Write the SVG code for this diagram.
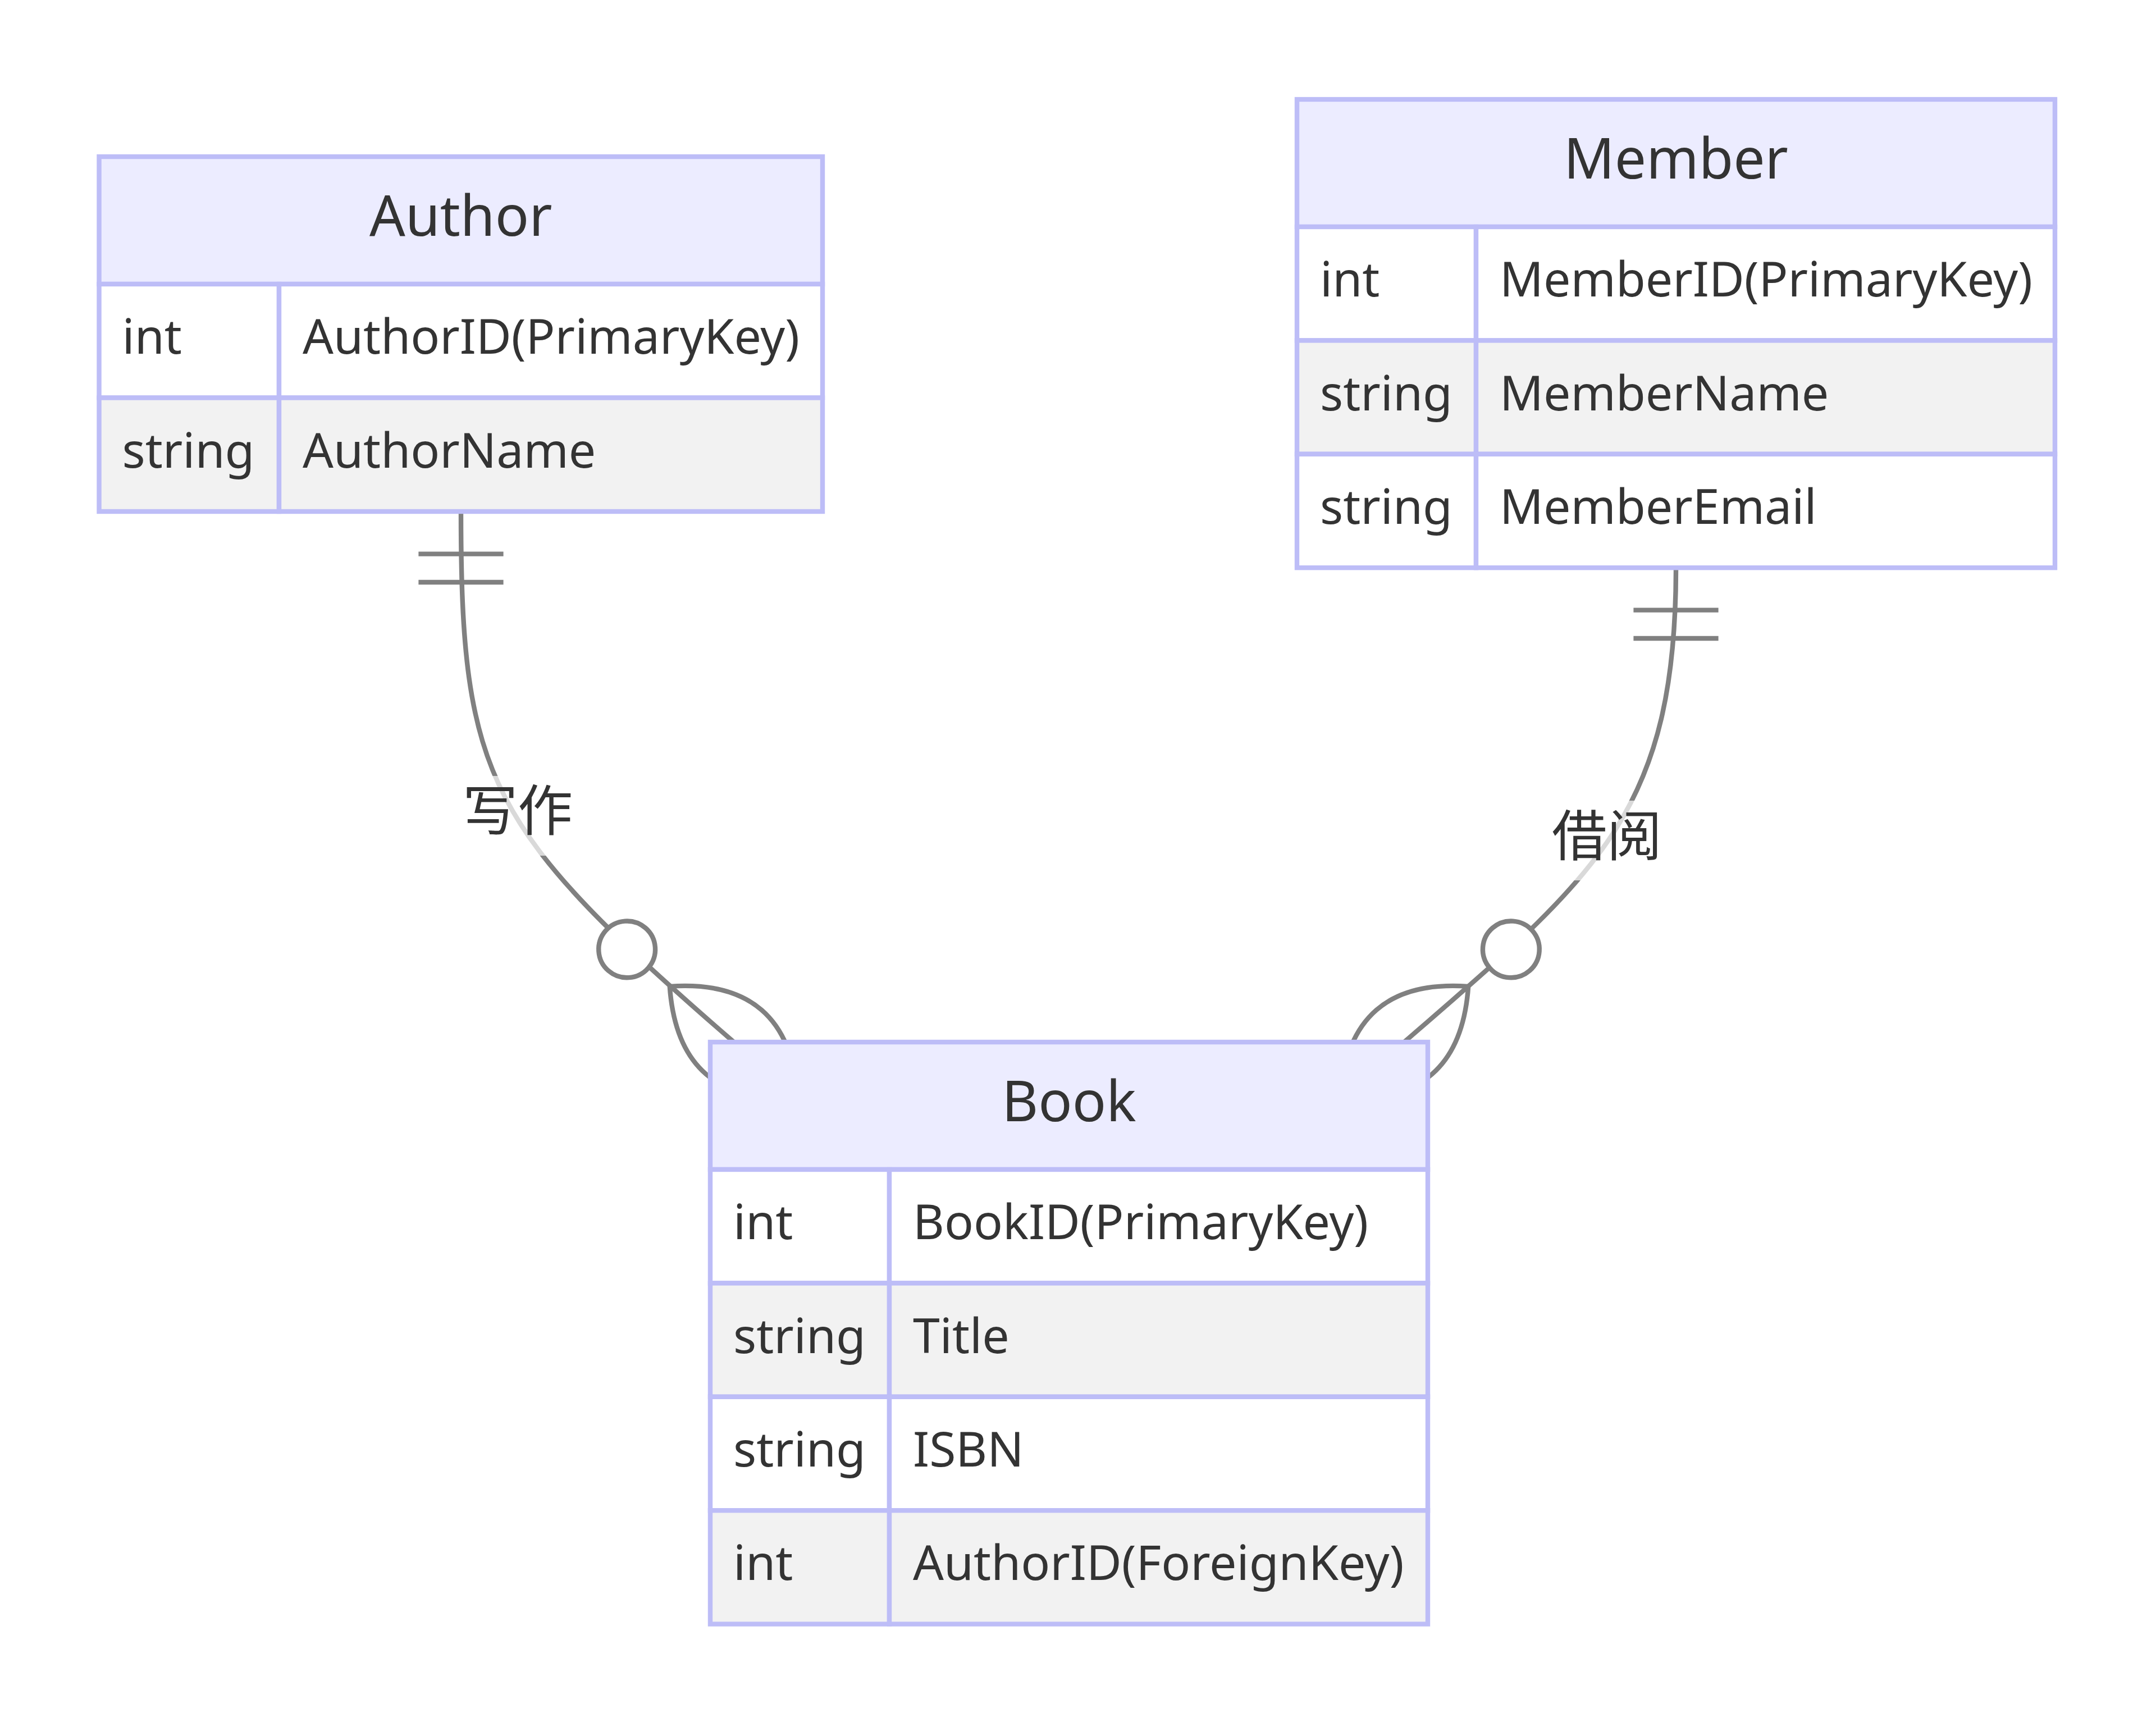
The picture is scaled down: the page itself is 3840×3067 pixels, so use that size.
<svg xmlns="http://www.w3.org/2000/svg" width="3840" height="3067" viewBox="0 0 3840 3067">
<defs>
<style>
.hdr{fill:#ececff;stroke:#bdbdf7;stroke-width:8.4}
.odd{fill:#ffffff;stroke:#bdbdf7;stroke-width:8.4}
.even{fill:#f2f2f2;stroke:#bdbdf7;stroke-width:8.4}
.title{font-family:"Noto Sans","Noto Sans CJK SC",sans-serif;font-size:100px;fill:#333333;text-anchor:middle}
.attr{font-family:"Noto Sans","Noto Sans CJK SC",sans-serif;font-size:86px;fill:#333333}
.rel{fill:none;stroke:#808080;stroke-width:8.4}
.lblbg{fill:#ffffff;opacity:0.7}
.lbl{font-family:"Noto Sans CJK SC","Noto Sans",sans-serif;font-size:98px;fill:#333333;text-anchor:middle}
</style>
<marker id="oneStart" markerWidth="18" markerHeight="18" refX="0" refY="9" orient="auto">
<path d="M9,0 L9,18 M15,0 L15,18" fill="none" stroke="#808080" stroke-width="1"/>
</marker>
<marker id="zeroManyEnd" markerWidth="57" markerHeight="36" refX="39" refY="18" orient="auto">
<circle cx="9" cy="18" r="6" fill="#ffffff" stroke="#808080" stroke-width="1"/>
<path d="M21,18 Q39,0 57,18 Q39,36 21,18" fill="none" stroke="#808080" stroke-width="1"/>
</marker>
</defs>
<rect x="0" y="0" width="3840" height="3067" fill="#ffffff"/>
<g id="connectors">
<path id="edge-author-book" class="rel" d="M821,911 C821,1389 869,1476 1307,1856" marker-start="url(#oneStart)" marker-end="url(#zeroManyEnd)"/>
<path id="edge-member-book" class="rel" d="M2985,1011 C2985,1451 2841,1561 2501,1856" marker-start="url(#oneStart)" marker-end="url(#zeroManyEnd)"/>
<g id="label-write">
<rect class="lblbg" x="824" y="1382" width="196" height="142"/>
<text class="lbl" x="922" y="1479">写作</text>
</g>
<g id="label-borrow">
<rect class="lblbg" x="2764" y="1426" width="196" height="142"/>
<text class="lbl" x="2862" y="1524">借阅</text>
</g>
</g>
<g id="entity-Author">
<rect class="hdr" x="176.5" y="279" width="1288.5" height="227"/>
<rect class="odd" x="176.5" y="506" width="320.5" height="202.5"/>
<rect class="odd" x="497" y="506" width="968" height="202.5"/>
<rect class="even" x="176.5" y="708.5" width="320.5" height="202.5"/>
<rect class="even" x="497" y="708.5" width="968" height="202.5"/>
<text class="title" x="820.75" y="420">Author</text>
<text class="attr" x="217.5" y="630">int</text>
<text class="attr" x="539" y="630">AuthorID(PrimaryKey)</text>
<text class="attr" x="217.5" y="833">string</text>
<text class="attr" x="539" y="833">AuthorName</text>
</g>
<g id="entity-Member">
<rect class="hdr" x="2310" y="177" width="1350" height="227"/>
<rect class="odd" x="2310" y="404" width="319" height="202.4"/>
<rect class="odd" x="2629" y="404" width="1031" height="202.4"/>
<rect class="even" x="2310" y="606.4" width="319" height="202.4"/>
<rect class="even" x="2629" y="606.4" width="1031" height="202.4"/>
<rect class="odd" x="2310" y="808.8" width="319" height="202.4"/>
<rect class="odd" x="2629" y="808.8" width="1031" height="202.4"/>
<text class="title" x="2985" y="318">Member</text>
<text class="attr" x="2351" y="528">int</text>
<text class="attr" x="2671" y="528">MemberID(PrimaryKey)</text>
<text class="attr" x="2351" y="731">string</text>
<text class="attr" x="2671" y="731">MemberName</text>
<text class="attr" x="2351" y="933">string</text>
<text class="attr" x="2671" y="933">MemberEmail</text>
</g>
<g id="entity-Book">
<rect class="hdr" x="1265" y="1856" width="1278" height="227"/>
<rect class="odd" x="1265" y="2083" width="319" height="202.4"/>
<rect class="odd" x="1584" y="2083" width="959" height="202.4"/>
<rect class="even" x="1265" y="2285.4" width="319" height="202.4"/>
<rect class="even" x="1584" y="2285.4" width="959" height="202.4"/>
<rect class="odd" x="1265" y="2487.8" width="319" height="202.4"/>
<rect class="odd" x="1584" y="2487.8" width="959" height="202.4"/>
<rect class="even" x="1265" y="2690.2" width="319" height="202.4"/>
<rect class="even" x="1584" y="2690.2" width="959" height="202.4"/>
<text class="title" x="1904" y="1997">Book</text>
<text class="attr" x="1306" y="2207">int</text>
<text class="attr" x="1626" y="2207">BookID(PrimaryKey)</text>
<text class="attr" x="1306" y="2410">string</text>
<text class="attr" x="1626" y="2410">Title</text>
<text class="attr" x="1306" y="2612">string</text>
<text class="attr" x="1626" y="2612">ISBN</text>
<text class="attr" x="1306" y="2814">int</text>
<text class="attr" x="1626" y="2814">AuthorID(ForeignKey)</text>
</g>
</svg>
